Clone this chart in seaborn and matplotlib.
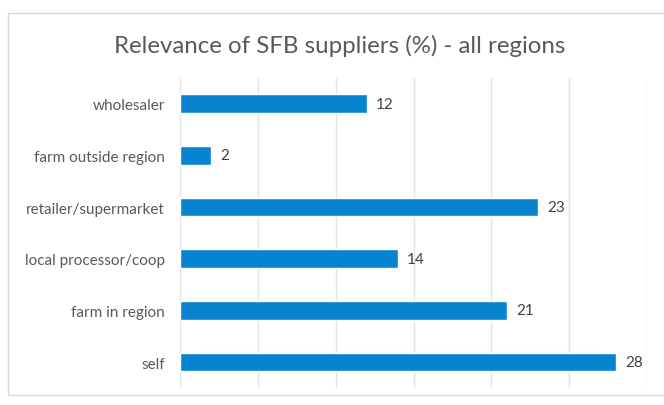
import seaborn as sns
import matplotlib.pyplot as plt
import pandas as pd
from matplotlib.patches import Rectangle

# data
suppliers = ["wholesaler", "farm outside region", "retailer/supermarket",
             "local processor/coop", "farm in region", "self"]
relevance = [12, 2, 23, 14, 21, 28]

df = pd.DataFrame({"Supplier": suppliers, "Relevance": relevance})

sns.set_style("white")
plt.rcParams["font.family"] = ["Lato", "DejaVu Sans"]

fig = plt.figure(figsize=(6.64, 4.06), dpi=100)
ax = fig.add_axes([0.2711, 0.042, 0.7033, 0.7635])

sns.barplot(data=df, x="Relevance", y="Supplier", color="#0784D0",
            saturation=1, width=0.36, ax=ax)

ax.set_xlim(0, 30)
ax.set_xticks(range(0, 31, 5))
ax.set_xticklabels([])
ax.grid(axis="x", color="#e3e3e3", linewidth=1)
ax.set_axisbelow(True)
for s in ax.spines.values():
    s.set_visible(False)
ax.tick_params(axis="both", length=0)
ax.tick_params(axis="y", labelsize=11, labelcolor="#595959", pad=11)
ax.set_xlabel("")
ax.set_ylabel("")

for i, v in enumerate(relevance):
    ax.text(v + 0.6, i, str(v), va="center", ha="left",
            fontsize=11, color="#404040")

fig.text(0.512, 0.888, "Relevance of SFB suppliers (%) - all regions",
         ha="center", va="center", fontsize=17.3, color="#595959")

fig.patches.append(Rectangle((8 / 664, 10 / 406), 1.0, 382 / 406,
                             transform=fig.transFigure, fill=False,
                             edgecolor="#d9d9d9", linewidth=1))

fig.savefig("out.png", dpi=100)
